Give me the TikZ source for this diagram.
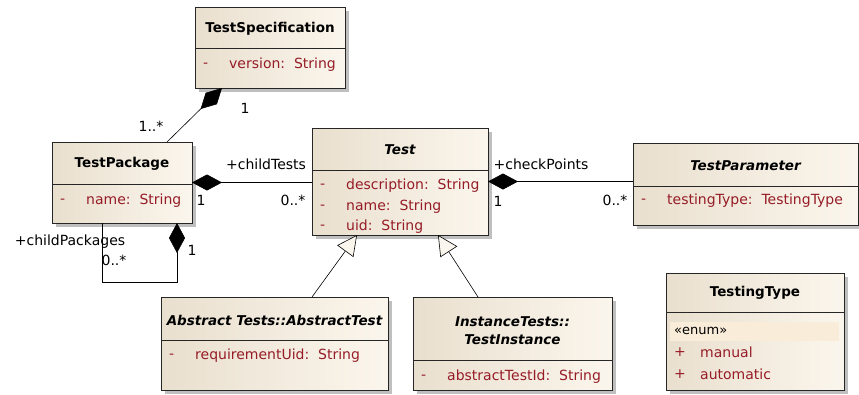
\documentclass[tikz,border=0pt]{standalone}
\usepackage{fontspec}
\setmainfont{DejaVu Sans}
\usetikzlibrary{arrows.meta,shadows}

\definecolor{boxL}{RGB}{233,223,206}
\definecolor{boxR}{RGB}{251,246,237}
\definecolor{attrred}{RGB}{150,28,38}
\definecolor{enumbg}{RGB}{249,236,216}

\tikzset{
  classbox/.style={draw=black!85, line width=0.8pt, inner sep=0pt, outer sep=0pt,
    left color=boxL, right color=boxR, anchor=north west,
    drop shadow={shadow xshift=4pt, shadow yshift=-4pt, fill=black!25, opacity=1}},
  title/.style={inner sep=0pt, font=\fontsize{13.5}{18}\selectfont\bfseries},
  ititle/.style={title, font=\fontsize{13.5}{18}\selectfont\bfseries\itshape},
  sepline/.style={line width=0.8pt, black!85},
  attr/.style={text=attrred, anchor=west, inner sep=0pt},
  lbl/.style={inner sep=0pt},
  assoc/.style={line width=0.6pt},
  comp/.style={assoc, -{Diamond[length=30pt,width=16pt]}},
  gen/.style={assoc, -{Triangle[length=20pt,width=20pt,fill=boxR]}}
}

% one attribute row: box, y, sign, text
\newcommand{\umlattr}[4]{%
  \node[attr, xshift=8pt] (#1-s#2) at (#1.west |- 0,#2) {#3};
  \node[attr, xshift=34pt] (#1-v#2) at (#1.west |- 0,#2) {#4};}

\begin{document}
\begin{tikzpicture}[x=1pt, y=-1pt, font=\fontsize{14}{17}\selectfont]
  \useasboundingbox (0,0) rectangle (859,394);

  % Classes
  \node[classbox, minimum width=150pt, minimum height=81pt] (spec) at (195,7) {};
  \node[title] (spec-t) at (spec.north |- 0,29) {TestSpecification};
  \draw[sepline] (spec.west |- 0,48) -- (spec.east |- 0,48);
  \umlattr{spec}{65}{-}{version:~~String}

  \node[classbox, minimum width=140pt, minimum height=81pt] (pkg) at (52,142) {};
  \node[title] (pkg-t) at (pkg.north |- 0,164) {TestPackage};
  \draw[sepline] (pkg.west |- 0,184) -- (pkg.east |- 0,184);
  \umlattr{pkg}{201}{-}{name:~~String}

  \node[classbox, minimum width=176pt, minimum height=107pt] (test) at (312,128) {};
  \node[ititle] (test-t) at (test.north |- 0,150) {Test};
  \draw[sepline] (test.west |- 0,170) -- (test.east |- 0,170);
  \umlattr{test}{186}{-}{description:~~String}
  \umlattr{test}{207}{-}{name:~~String}
  \umlattr{test}{227}{-}{uid:~~String}

  \node[classbox, minimum width=225pt, minimum height=82pt] (param) at (633,143) {};
  \node[ititle] (param-t) at (param.north |- 0,166) {TestParameter};
  \draw[sepline] (param.west |- 0,186) -- (param.east |- 0,186);
  \umlattr{param}{201}{-}{testingType:~~TestingType}

  \node[classbox, minimum width=227pt, minimum height=93pt] (abstest) at (161,297) {};
  \node[ititle] (abstest-t) at (abstest.north |- 0,320) {Abstract Tests::AbstractTest};
  \draw[sepline] (abstest.west |- 0,340) -- (abstest.east |- 0,340);
  \umlattr{abstest}{356}{-}{requirementUid:~~String}

  \node[classbox, minimum width=199pt, minimum height=93pt] (inst) at (413,297) {};
  \node[ititle, align=center] (inst-t) at (inst.north |- 0,331) {InstanceTests::\\TestInstance};
  \draw[sepline] (inst.west |- 0,360) -- (inst.east |- 0,360);
  \umlattr{inst}{377}{-}{abstractTestId:~~String}

  \node[classbox, minimum width=178pt, minimum height=117pt] (ttype) at (666,273) {};
  \node[title] (ttype-t) at (ttype.north |- 0,293) {TestingType};
  \draw[sepline] (ttype.west |- 0,312) -- (ttype.east |- 0,312);
  \fill[enumbg] (670,322) rectangle (839,341);
  \node[anchor=west, inner sep=0pt, font=\fontsize{13}{15}\selectfont] (ttype-st) at (674,331) {«enum»};
  \umlattr{ttype}{352}{+}{manual}
  \umlattr{ttype}{374}{+}{automatic}

  % Compositions
  \draw[comp] ([xshift=115pt]pkg.north west) -- ([xshift=27pt]spec.south west);
  \draw[comp] (pkg.east -| test.west) -- (pkg.east);
  \draw[comp] (test.east -| param.west) -- (test.east);
  \draw[comp] ([xshift=50pt]pkg.south west) -- ++(0,59) -| ([xshift=125pt]pkg.south west);

  % Generalizations
  \draw[gen] ([xshift=151pt]abstest.north west) -- ([xshift=45pt]test.south west);
  \draw[gen] ([xshift=65pt]inst.north west) -- ([xshift=126pt]test.south west);

  % Roles and multiplicities
  \node[lbl] (m1) at (245,108) {1};
  \node[lbl] (m2) at (151,126) {1..*};
  \node[lbl] (r1) at (266,164) {+childTests};
  \node[lbl] (m3) at (201,200) {1};
  \node[lbl] (m4) at (293,200) {0..*};
  \node[lbl] (r2) at (541,164) {+checkPoints};
  \node[lbl] (m5) at (498,201) {1};
  \node[lbl] (m6) at (615,200) {0..*};
  \node[lbl] (r3) at (70,242) {+childPackages};
  \node[lbl] (m7) at (114,260) {0..*};
  \node[lbl] (m8) at (192,250) {1};
\end{tikzpicture}
\end{document}
